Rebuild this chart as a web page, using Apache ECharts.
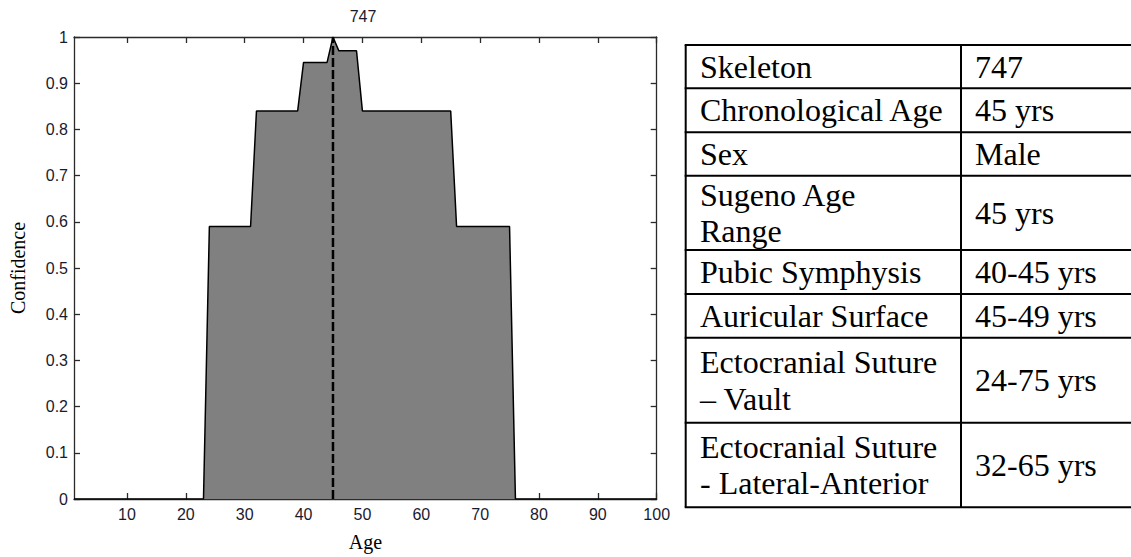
<!DOCTYPE html>
<html>
<head>
<meta charset="utf-8">
<script src="https://cdn.jsdelivr.net/npm/echarts@6/dist/echarts.min.js"></script>
<style>
html,body{margin:0;padding:0;background:#fff;}
#chart{width:1131px;height:557px;}
</style>
</head>
<body>
<div id="chart"></div>
<script>
// ---- data ----
const chartTitle = '747';
const ageBreaks = [1, 23, 24, 31, 32, 39, 40, 44, 45, 46, 49, 50, 65, 66, 75, 76, 100];
const confidence = [0, 0, 0.59, 0.59, 0.84, 0.84, 0.945, 0.945, 1, 0.97, 0.97, 0.84, 0.84, 0.59, 0.59, 0, 0];
const estimateAge = [45, 45];
const estimateConf = [0, 1];
const xTicks = [10, 20, 30, 40, 50, 60, 70, 80, 90, 100];
const yTicks = [0, 0.1, 0.2, 0.3, 0.4, 0.5, 0.6, 0.7, 0.8, 0.9, 1];
const tableLabels = ['Skeleton', 'Chronological Age', 'Sex', 'Sugeno Age\nRange', 'Pubic Symphysis',
  'Auricular Surface', 'Ectocranial Suture\n\u2013 Vault', 'Ectocranial Suture\n- Lateral-Anterior'];
const tableValues = ['747', '45 yrs', 'Male', '45 yrs', '40-45 yrs', '45-49 yrs', '24-75 yrs', '32-65 yrs'];

// ---- layout (not data) ----
const rowEdges = [45, 88.3, 132.3, 175.7, 250, 294, 337.7, 422.7, 507.3];
const colX = [685.7, 961, 1131];
const textX = [700, 975];

const chart = echarts.init(document.getElementById('chart'), null, {renderer: 'svg'});

const sansFont = 'Liberation Sans, Arial, sans-serif';
const serifFont = 'Liberation Serif, Times New Roman, serif';
const axisColor = '#2a2a2a';
const labelColor = '#1a1a2e';

const graphics = [];
// chart title centred over the plot
graphics.push({type: 'text', x: 363, y: 16, silent: true,
  style: {text: chartTitle, fontSize: 16, fontFamily: sansFont, fill: labelColor, align: 'center', verticalAlign: 'middle'}});
rowEdges.forEach(y => {
  graphics.push({type: 'line', shape: {x1: colX[0] - 1, y1: y, x2: colX[2], y2: y},
    style: {stroke: '#000', lineWidth: 2}, silent: true});
});
[colX[0], colX[1]].forEach(x => {
  graphics.push({type: 'line', shape: {x1: x, y1: rowEdges[0], x2: x, y2: rowEdges[rowEdges.length - 1]},
    style: {stroke: '#000', lineWidth: 2}, silent: true});
});
tableLabels.forEach((lab, i) => {
  const cy = (rowEdges[i] + rowEdges[i + 1]) / 2;
  [lab, tableValues[i]].forEach((t, c) => {
    graphics.push({type: 'text', x: textX[c], y: cy, silent: true,
      style: {text: t, fontSize: 32, fontFamily: serifFont, fill: '#000',
        align: 'left', verticalAlign: 'middle', lineHeight: 36.7}});
  });
});

const xCommon = {
  type: 'value', min: 1, max: 100,
  axisLine: {show: true, onZero: false, lineStyle: {color: axisColor, width: 1.3}},
  axisTick: {show: true, inside: true, length: 6, customValues: xTicks, lineStyle: {color: axisColor, width: 1.3}},
  splitLine: {show: false}
};
const yCommon = {
  type: 'value', min: 0, max: 1,
  axisLine: {show: true, onZero: false, lineStyle: {color: axisColor, width: 1.3}},
  axisTick: {show: true, inside: true, length: 6, customValues: yTicks, lineStyle: {color: axisColor, width: 1.3}},
  splitLine: {show: false}
};

chart.setOption({
  animation: false,
  backgroundColor: '#fff',
  grid: {left: 71.1, right: 474.3, top: 37, bottom: 57.5},
  xAxis: [
    Object.assign({}, xCommon, {
      position: 'bottom',
      name: 'Age', nameLocation: 'middle', nameGap: 33,
      nameTextStyle: {fontFamily: serifFont, fontSize: 20, color: '#000'},
      axisLabel: {show: true, customValues: xTicks, margin: 7, fontFamily: sansFont, fontSize: 16, color: labelColor}
    }),
    Object.assign({}, xCommon, {position: 'top', axisLabel: {show: false}})
  ],
  yAxis: [
    Object.assign({}, yCommon, {
      position: 'left',
      name: 'Confidence', nameLocation: 'middle', nameGap: 46,
      nameTextStyle: {fontFamily: serifFont, fontSize: 20, color: '#000'},
      axisLabel: {show: true, customValues: yTicks, margin: 6, fontFamily: sansFont, fontSize: 16, color: labelColor,
        formatter: v => String(+v.toFixed(1))}
    }),
    Object.assign({}, yCommon, {position: 'right', axisLabel: {show: false}})
  ],
  series: [
    {
      type: 'line', xAxisIndex: 0, yAxisIndex: 0,
      data: ageBreaks.map((a, i) => [a, confidence[i]]),
      showSymbol: false, symbol: 'none',
      lineStyle: {color: '#000', width: 1.5},
      areaStyle: {color: '#808080', opacity: 1},
      silent: true, z: 2
    },
    {
      type: 'line', xAxisIndex: 0, yAxisIndex: 0,
      data: estimateAge.map((a, i) => [a, estimateConf[i]]),
      showSymbol: false, symbol: 'none',
      lineStyle: {color: '#000', width: 2.5, type: [9, 3]},
      silent: true, z: 3
    }
  ],
  graphic: graphics
});
</script>
</body>
</html>
